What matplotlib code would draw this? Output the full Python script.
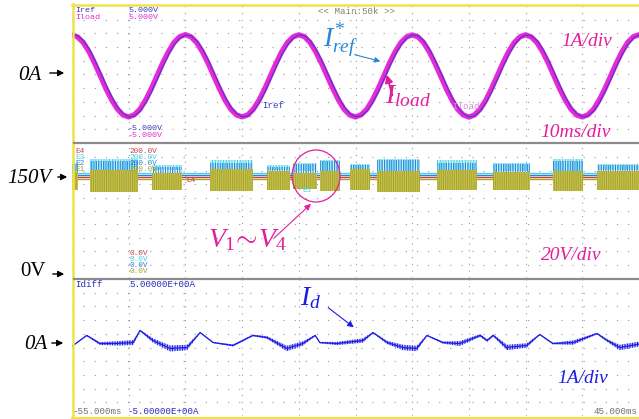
import numpy as np
import matplotlib.pyplot as plt
from matplotlib.patches import Ellipse

plt.rcParams['lines.scale_dashes'] = False
plt.rcParams['hatch.linewidth'] = 0.7
plt.rcParams['mathtext.fontset'] = 'custom'
plt.rcParams['mathtext.it'] = 'Liberation Serif:italic'
plt.rcParams['mathtext.rm'] = 'Liberation Serif'

W, H = 639, 419

# ---- reference and load current (A), 1 ms samples from -55 ms ----
t_cur = np.arange(-55, 46, 1)
i_load = [2.90, 2.74, 2.33, 1.67, 0.82, -0.10, -1.04, -1.86, -2.52, -2.96,
          -3.10, -2.94, -2.53, -1.85, -1.03, -0.09, 0.84, 1.66, 2.34, 2.76,
          2.91, 2.75, 2.32, 1.66, 0.83, -0.11, -1.03, -1.87, -2.53, -2.95,
          -3.09, -2.95, -2.52, -1.86, -1.04, -0.10, 0.83, 1.67, 2.33, 2.75,
          2.90, 2.76, 2.33, 1.65, 0.82, -0.10, -1.02, -1.86, -2.54, -2.96,
          -3.10, -2.94, -2.53, -1.86, -1.03, -0.11, 0.84, 1.66, 2.32, 2.74,
          2.89, 2.75, 2.34, 1.66, 0.83, -0.09, -1.03, -1.85, -2.53, -2.95,
          -3.11, -2.95, -2.52, -1.86, -1.02, -0.10, 0.83, 1.67, 2.33, 2.75,
          2.90, 2.74, 2.33, 1.66, 0.84, -0.10, -1.04, -1.86, -2.53, -2.96,
          -3.10, -2.94, -2.53, -1.85, -1.03, -0.10, 0.82, 1.66, 2.34, 2.76,
          2.90]
i_ref = [2.89, 2.83, 2.48, 1.88, 1.09, 0.18, -0.75, -1.63, -2.35, -2.85,
         -3.09, -3.03, -2.68, -2.08, -1.29, -0.38, 0.55, 1.43, 2.15, 2.65,
         2.88, 2.82, 2.47, 1.88, 1.10, 0.17, -0.76, -1.63, -2.36, -2.84,
         -3.08, -3.03, -2.67, -2.08, -1.30, -0.38, 0.54, 1.44, 2.15, 2.66,
         2.89, 2.83, 2.48, 1.87, 1.09, 0.18, -0.75, -1.62, -2.35, -2.85,
         -3.09, -3.02, -2.68, -2.09, -1.29, -0.37, 0.55, 1.43, 2.14, 2.65,
         2.88, 2.83, 2.49, 1.88, 1.08, 0.18, -0.74, -1.63, -2.35, -2.86,
         -3.09, -3.03, -2.68, -2.08, -1.29, -0.38, 0.56, 1.43, 2.15, 2.64,
         2.89, 2.82, 2.48, 1.88, 1.09, 0.17, -0.75, -1.63, -2.36, -2.85,
         -3.09, -3.03, -2.67, -2.08, -1.28, -0.38, 0.55, 1.43, 2.15, 2.65,
         2.89]

# ---- cell voltages E1..E4: switching bursts (ms) and envelope of each burst (V) ----
burst_start = [-55.0, -51.8, -40.9, -30.7, -20.6, -16.0, -11.3, -6.0, -1.2, 9.4, 19.3, 29.8, 37.6]
burst_end = [-53.9, -43.4, -35.6, -23.1, -16.6, -11.8, -7.7, -2.4, 6.4, 16.4, 25.8, 35.1, 45.0]
e1_low = [131, 129, 132, 130, 131, 133, 130, 131, 129, 132, 131, 130, 131]
e1_high = [158, 161, 157, 162, 159, 156, 160, 162, 159, 161, 158, 160, 159]
e2_low = [150, 149, 151, 150, 150, 151, 149, 150, 150, 149, 151, 150, 150]
e2_high = [170, 175, 166, 172, 166, 170, 174, 169, 176, 172, 170, 174, 168]
e3_low = [160, 158, 161, 159, 161, 160, 158, 160, 158, 159, 160, 158, 161]
e3_high = [172, 178, 169, 176, 168, 172, 176, 170, 178, 176, 172, 178, 170]
dc_level = {'E4': 151, 'E3': 156, 'E2': 153, 'E1': 148}

# ---- differential current Id (A) with its ripple half-width ----
t_id = [-55.0, -54.8, -52.4, -50.1, -47.0, -44.2, -43.0, -40.7, -37.7, -34.7,
        -32.4, -30.1, -26.6, -23.1, -20.6, -17.1, -14.3, -12.1, -11.3, -8.3,
        -3.7, -1.9, 0.6, 3.4, 5.8, 7.6, 10.4, 13.4, 17.0, 18.2,
        19.3, 21.7, 25.2, 27.5, 29.8, 33.4, 37.6, 39.4, 41.6, 45.0]
i_d = [0.10, 0.15, 0.88, 0.29, 0.30, 0.36, 1.24, 0.51, -0.07, 0.00,
       1.09, 0.36, 0.15, 0.88, 0.73, -0.07, 0.29, 0.88, 0.36, 0.29,
       0.51, 1.09, 0.36, 0.00, -0.07, 0.88, 0.36, 0.29, 0.88, 0.51,
       0.88, 0.00, 0.15, 0.95, 0.29, 0.36, 1.02, 0.51, 0.00, 0.25]
id_ripple = [0.03, 0.03, 0.05, 0.10, 0.16, 0.18, 0.06, 0.16, 0.22, 0.20,
             0.04, 0.04, 0.08, 0.06, 0.10, 0.20, 0.16, 0.05, 0.05, 0.12,
             0.16, 0.05, 0.12, 0.20, 0.20, 0.04, 0.08, 0.18, 0.10, 0.10,
             0.08, 0.20, 0.16, 0.04, 0.06, 0.16, 0.06, 0.10, 0.20, 0.18]

c_yellow = '#efe24a'
c_sep = '#8c8c8c'
c_grid = '#9a9a9a'
c_ref = '#3a3ac4'
c_load = '#e62ad8'
c_pink = '#e31e9b'
c_sky = '#2a86d6'
c_blue = '#1c1ce6'
c_e1, c_e2, c_e3, c_e4 = '#a9a51c', '#2c80dc', '#45d2e6', '#c4404c'

fig = plt.figure(figsize=(W / 100, H / 100), dpi=100)


def frame(top, bottom):
    return [72 / W, 1 - bottom / H, (W - 72) / W, (bottom - top) / H]


def scope_grid(ax, lo, hi):
    ax.set_xlim(-55, 45)
    ax.set_ylim(lo, hi)
    step = (hi - lo) / 10
    for k in range(1, 10):
        ax.axhline(lo + k * step, color=c_grid, lw=0.8, ls=(0, (0.8, 7.2)), zorder=0)
        ax.axvline(-55 + 10 * k, color=c_grid, lw=0.8, ls=(0, (0.8, 4.1)), zorder=0)
    ax.set_xticks([])
    ax.set_yticks([])
    for s in ax.spines.values():
        s.set_visible(False)


ax_i = fig.add_axes(frame(6, 143))
ax_v = fig.add_axes(frame(144, 278))
ax_d = fig.add_axes(frame(279, 416))
scope_grid(ax_i, -5, 5)
scope_grid(ax_v, 0, 200)
scope_grid(ax_d, -5, 5)

# currents
ax_i.plot(t_cur, i_load, color=c_load, lw=3.8, solid_joinstyle='round', zorder=3)
ax_i.plot(t_cur, i_ref, color=c_ref, lw=1.0, alpha=0.75, zorder=4)

# cell voltages: dc lines, then the switching envelopes
for lvl, col in [(dc_level['E3'], c_e3), (dc_level['E2'], c_e2),
                 (dc_level['E4'], c_e4), (dc_level['E1'], c_e1)]:
    ax_v.axhline(lvl, color=col, lw=1.0, zorder=2)
for k, (s, e) in enumerate(zip(burst_start, burst_end)):
    ax_v.fill_between([s, e], e3_low[k], e3_high[k], facecolor='#c6f2f8',
                      edgecolor=c_e3, hatch='||||||', lw=0, zorder=3)
    ax_v.fill_between([s, e], e2_low[k], e2_high[k], facecolor='none',
                      edgecolor=c_e2, hatch='|||||||', lw=0, zorder=4)
    ax_v.fill_between([s, e], e1_low[k], e1_high[k], facecolor='#c9c566',
                      edgecolor=c_e1, hatch='|||||||||', lw=0, zorder=5)

# differential current: ripple band as fine vertical hatching plus the mean trace
t_id_a = np.array(t_id)
i_d_a = np.array(i_d)
rip = np.array(id_ripple)
ax_d.fill_between(t_id_a, i_d_a - rip, i_d_a + rip, facecolor='none', edgecolor=c_blue,
                  hatch='||||||||||', lw=0, zorder=3)
ax_d.plot(t_id_a, i_d_a, color=c_blue, lw=0.9, zorder=4)

# overlay in pixel units for the screen frame and the annotations
ov = fig.add_axes([0, 0, 1, 1], zorder=10)
ov.set_xlim(0, W)
ov.set_ylim(H, 0)
ov.axis('off')
ov.patch.set_alpha(0)

ov.plot([72.5, 72.5], [4, 418], color=c_yellow, lw=1.8)
ov.plot([72, W], [5, 5], color=c_yellow, lw=1.8)
ov.plot([72, W], [417.5, 417.5], color=c_yellow, lw=1.4)
for y in (143.5, 278.5):
    ov.plot([73.5, W], [y, y], color=c_sep, lw=1.6)

mono = dict(family='Liberation Mono', fontsize=6.6, va='center')
pair = dict(family='Liberation Mono', fontsize=6.0, va='center')
small = dict(family='Liberation Mono', fontsize=5.6, va='center')
ov.text(75, 10, 'Iref', color=c_ref, **pair)
ov.text(75, 17.5, 'Iload', color=c_load, **pair)
ov.text(129, 10, '5.000V', color=c_ref, **pair)
ov.text(129, 17.5, '5.000V', color=c_load, **pair)
ov.text(128, 128, '-5.000V', color=c_ref, **pair)
ov.text(128, 135.5, '-5.000V', color=c_load, **pair)
ov.text(356, 11, '<< Main:50k >>', color='#808080', ha='center', family='Liberation Mono',
        fontsize=6.6, va='center')
ov.text(262, 105, 'Iref', color=c_ref, **mono)
ov.text(452, 106, 'Iload', color='#d88ad8', **mono)

for k, (lab, col) in enumerate([('E4', c_e4), ('E3', c_e3), ('E2', c_e2), ('E1', c_e1)]):
    ov.text(75, 151 + 6.3 * k, lab, color=col, **small)
    ov.text(129, 151 + 6.3 * k, '200.0V', color=col, **small)
    ov.text(129, 253 + 6.3 * k, '0.0V', color=col, **small)
ov.text(186, 180, 'E4', color=c_e4, **small)
ov.text(302, 190, 'E3', color=c_e3, **small)

ov.text(75, 284, 'Idiff', color='#2a2ac0', **mono)
ov.text(129, 284, '5.00000E+00A', color='#2a2ac0', **mono)
ov.text(73, 411, '-55.000ms', color='#707070', **mono)
ov.text(128, 411, '-5.00000E+00A', color='#2a2ac0', **mono)
ov.text(638, 411, '45.000ms', color='#707070', ha='right', family='Liberation Mono',
        fontsize=6.6, va='center')

# level markers on the left
serif = dict(family='Liberation Serif', fontsize=15, va='center', ha='center')
arrow_k = dict(arrowstyle='-|>', color='k', lw=1.0, mutation_scale=9)
ov.text(30, 75, '0A', style='italic', **serif)
ov.annotate('', xy=(67, 73), xytext=(47, 73), arrowprops=arrow_k)
ov.text(29, 178, '150V', style='italic', **serif)
ov.annotate('', xy=(70, 177), xytext=(55, 177), arrowprops=arrow_k)
ov.text(33, 271, '0V', **serif)
ov.annotate('', xy=(67, 274), xytext=(50, 274), arrowprops=arrow_k)
ov.text(36, 344, '0A', style='italic', **serif)
ov.annotate('', xy=(66, 343), xytext=(49, 343), arrowprops=arrow_k)

# trace labels
ov.text(323, 46, r'$I^{*}_{ref}$', color=c_sky, fontsize=20, va='baseline')
ov.annotate('', xy=(383, 62), xytext=(352, 54),
            arrowprops=dict(arrowstyle='-|>', color=c_sky, lw=0.8, mutation_scale=8))
ov.text(385, 103, r'$I_{load}$', color=c_pink, fontsize=20, va='baseline')
ov.annotate('', xy=(386, 72), xytext=(393, 98),
            arrowprops=dict(arrowstyle='-|>', color=c_pink, lw=1.4, mutation_scale=11))
ov.text(587, 41, '1A/div', color=c_pink, family='Liberation Serif', style='italic',
        fontsize=14, ha='center', va='center')
ov.text(575, 132, '10ms/div', color=c_pink, family='Liberation Serif', style='italic',
        fontsize=14, ha='center', va='center')

ov.add_patch(Ellipse((316, 176), 48, 52, fill=False, edgecolor=c_pink, lw=0.9))
ov.text(208, 247, r'$V_{1}\!\sim\!V_{4}$', color=c_pink, fontsize=20, va='baseline')
ov.annotate('', xy=(313, 202), xytext=(272, 240),
            arrowprops=dict(arrowstyle='-|>', color=c_pink, lw=0.8, mutation_scale=9))
ov.text(571, 255, '20V/div', color=c_pink, family='Liberation Serif', style='italic',
        fontsize=14, ha='center', va='center')

ov.text(300, 305, r'$I_{d}$', color=c_blue, fontsize=20, va='baseline')
ov.annotate('', xy=(356, 329), xytext=(326, 306),
            arrowprops=dict(arrowstyle='-|>', color=c_blue, lw=0.8, mutation_scale=9))
ov.text(583, 378, '1A/div', color=c_blue, family='Liberation Serif', style='italic',
        fontsize=14, ha='center', va='center')

fig.savefig('out.png', dpi=100, facecolor='white')
